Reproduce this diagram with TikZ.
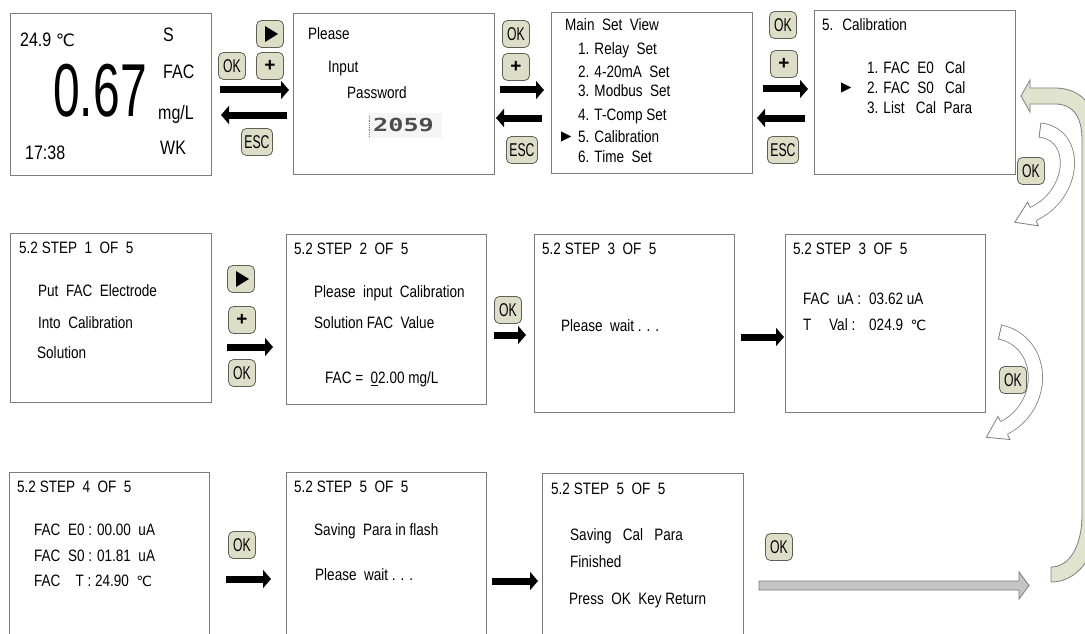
\documentclass[tikz,border=0pt]{standalone}
\usepackage{fontspec}
\setmainfont{Liberation Sans}[FakeStretch=0.82]
\newfontfamily\bigfont{Liberation Sans}[FakeStretch=0.64]
\newfontfamily\btnfont{Liberation Sans}[FakeStretch=0.66]
\newfontfamily\plusfont{Liberation Sans}
\newfontfamily\symfont{DejaVu Sans}
\newfontfamily\pwfont{DejaVu Sans Mono}[FakeStretch=1.4]
\usetikzlibrary{arrows.meta,calc}
\definecolor{btnfill}{RGB}{220,222,200}
\definecolor{btnedge}{RGB}{95,95,85}
\definecolor{olivefill}{RGB}{224,228,206}
\definecolor{boxedge}{RGB}{125,125,125}
\definecolor{arrgray}{RGB}{196,196,196}
\newcommand\cel{{\symfont\fontsize{14pt}{14pt}\selectfont ℃}}
\newcommand\bigcel{{\symfont\fontsize{17pt}{17pt}\selectfont ℃}}
\newcommand\plussign{{\plusfont\bfseries\fontsize{19pt}{19pt}\selectfont +}}
\newcommand\wharrow[4]{%
  \draw[draw=boxedge, line width=15pt] #1 .. controls #2 and #3 .. #4;
  \draw[white, line width=13.4pt] #1 .. controls #2 and #3 .. #4;
  \draw[boxedge, line width=0.8pt] ($#1!7.5pt!90:#2$) -- ($#1!7.5pt!-90:#2$);
  \coordinate (hE) at #4;
  \coordinate (hT) at ($#4!-20pt!#3$);
  \fill[white] ($(hE)!13pt!90:(hT)$) -- (hT) -- ($(hE)!13pt!-90:(hT)$) -- cycle;
  \draw[boxedge, line width=0.8pt, line join=miter] ($(hE)!7.5pt!90:(hT)$) -- ($(hE)!13pt!90:(hT)$) -- (hT) -- ($(hE)!13pt!-90:(hT)$) -- ($(hE)!7.5pt!-90:(hT)$);
}
\begin{document}
\begin{tikzpicture}[x=1pt,y=-1pt,
  scr/.style={draw=boxedge, line width=0.9pt, fill=white, anchor=north west, inner sep=0pt},
  txt/.style={anchor=west, inner sep=0pt, font=\fontsize{16.5pt}{19pt}\selectfont, text height=11.8pt, text depth=0pt},
  lg/.style={anchor=west, inner sep=0pt, font=\fontsize{19.5pt}{22pt}\selectfont, text height=14pt, text depth=0pt},
  menumark/.style={anchor=west, inner sep=0pt, font=\symfont\fontsize{13.5pt}{13.5pt}\selectfont},
  btn/.style={draw=btnedge, fill=btnfill, rounded corners=5pt, line width=0.8pt, minimum width=27pt, minimum height=27pt, inner xsep=3pt, inner ysep=0pt, font=\btnfont\fontsize{18.5pt}{18.5pt}\selectfont},
  blk/.style={line width=7pt, -{Triangle[length=8pt,width=18pt]}},
]
\useasboundingbox (0,0) rectangle (1085,634);
\clip (0,0) rectangle (1085,634);
\fill[white] (0,0) rectangle (1085,634);

% ---------- screens ----------
\node[scr, minimum width=201pt, minimum height=162pt] (s1) at (10,13) {};
\node[scr, minimum width=201pt, minimum height=161pt] (s2) at (293,13) {};
\node[scr, minimum width=201pt, minimum height=161pt] (s3) at (551,12) {};
\node[scr, minimum width=201pt, minimum height=164pt] (s4) at (814,10) {};
\node[scr, minimum width=201pt, minimum height=169pt] (m1) at (10,233) {};
\node[scr, minimum width=200pt, minimum height=170pt] (m2) at (286,234) {};
\node[scr, minimum width=200pt, minimum height=178pt] (m3) at (534,234) {};
\node[scr, minimum width=200pt, minimum height=178pt] (m4) at (785,234) {};
\node[scr, minimum width=200pt, minimum height=200pt] (b1) at (9,472) {};
\node[scr, minimum width=200pt, minimum height=200pt] (b2) at (286,472) {};
\node[scr, minimum width=201pt, minimum height=200pt] (b3) at (542,473) {};

% ---------- screen 1 ----------
\node[lg] (t1a) at (20,40) {24.9 \bigcel};
\node[inner sep=0pt, font=\bigfont\fontsize{75pt}{75pt}\selectfont, text height=54pt, text depth=0pt] (t1b) at (100,90) {0.67};
\node[lg] (t1c) at (25,152) {17:38};
\node[lg] (t1d) at (163,35) {S};
\node[lg] (t1e) at (163,72) {FAC};
\node[lg] (t1f) at (158,113) {mg/L};
\node[lg] (t1g) at (160,147) {WK};

% ---------- screen 2 ----------
\node[txt] (t2a) at (308,34) {Please};
\node[txt] (t2b) at (328,67) {Input};
\node[txt] (t2c) at (347,93) {Password};
\fill[gray!8] (368,113) rectangle (442,138);
\draw[densely dotted, gray, line width=0.8pt] (369,116) -- (369,136);
\node[inner sep=0pt, anchor=west, font=\pwfont\bfseries\fontsize{18pt}{18pt}\selectfont, text=gray!60!black, text height=13pt, text depth=0pt] (t2d) at (373,125) {2059};

% ---------- screen 3 ----------
\node[txt] (t3a) at (565,25) {Main~ Set~ View};
\node[txt] (t3b) at (578,49) {1. Relay~ Set};
\node[txt] (t3c) at (578,72) {2. 4-20mA~ Set};
\node[txt] (t3d) at (578,91) {3. Modbus~ Set};
\node[txt] (t3e) at (578,115) {4. T-Comp Set};
\node[menumark] (t3m) at (561,137) {▶};
\node[txt] (t3f) at (578,137) {5. Calibration};
\node[txt] (t3g) at (578,157) {6. Time~ Set};

% ---------- screen 4 ----------
\node[txt] (t4a) at (822,25) {5.~ Calibration};
\node[txt] (t4b) at (867,68) {1. FAC~ E0~~ Cal};
\node[menumark] (t4m) at (841,88) {▶};
\node[txt] (t4c) at (867,88) {2. FAC~ S0~~ Cal};
\node[txt] (t4d) at (867,108) {3. List~~ Cal~ Para};

% ---------- middle row ----------
\node[txt] (u1a) at (19,248) {5.2 STEP~ 1~ OF~ 5};
\node[txt] (u1b) at (38,291) {Put~ FAC~ Electrode};
\node[txt] (u1c) at (38,323) {Into~ Calibration};
\node[txt] (u1d) at (37,353) {Solution};

\node[txt] (u2a) at (294,249) {5.2 STEP~ 2~ OF~ 5};
\node[txt] (u2b) at (314,292) {Please~ input~ Calibration};
\node[txt] (u2c) at (314,323) {Solution FAC~ Value};
\node[txt] (u2d) at (325,378) {FAC =~ \underline{0}2.00 mg/L};

\node[txt] (u3a) at (542,249) {5.2 STEP~ 3~ OF~ 5};
\node[txt] (u3b) at (561,326) {Please~ wait . . .};

\node[txt] (u4a) at (793,249) {5.2 STEP~ 3~ OF~ 5};
\node[txt] (u4b) at (803,299) {FAC~ uA :};
\node[txt] (u4c) at (869,299) {03.62 uA};
\node[txt] (u4d) at (803,325) {T};
\node[txt] (u4e) at (829,325) {Val :};
\node[txt] (u4f) at (869,325) {024.9~ \cel};

% ---------- bottom row ----------
\node[txt] (v1a) at (17,487) {5.2 STEP~ 4~ OF~ 5};
\node[txt] (v1b) at (34,530) {FAC~ E0 : 00.00~ uA};
\node[txt] (v1c) at (34,556) {FAC~ S0 : 01.81~ uA};
\node[txt] (v1d) at (34,581) {FAC~~~ T : 24.90~ \cel};

\node[txt] (v2a) at (294,487) {5.2 STEP~ 5~ OF~ 5};
\node[txt] (v2b) at (314,530) {Saving~ Para in flash};
\node[txt] (v2c) at (315,575) {Please~ wait . . .};

\node[txt] (v3a) at (551,489) {5.2 STEP~ 5~ OF~ 5};
\node[txt] (v3b) at (570,535) {Saving~~ Cal~~ Para};
\node[txt] (v3c) at (570,562) {Finished};
\node[txt] (v3d) at (569,599) {Press~ OK~ Key Return};

% ---------- buttons ----------
\node[btn] (p1) at (270,34) {};
\fill (p1.center) ++(-5,-8) -- ++(0,16) -- ++(13,-8) -- cycle;
\node[btn] (k1) at (232,66) {OK};
\node[btn] (q1) at (270,66) {\plussign};
\node[btn] (e1) at (257,142) {ESC};
\node[btn] (k2) at (516,34) {OK};
\node[btn] (q2) at (516,67) {\plussign};
\node[btn] (e2) at (522,150) {ESC};
\node[btn] (k3) at (783,25) {OK};
\node[btn] (q3) at (784,64) {\plussign};
\node[btn] (e3) at (783,150) {ESC};
\node[btn] (p2) at (241,279) {};
\fill (p2.center) ++(-5,-8) -- ++(0,16) -- ++(13,-8) -- cycle;
\node[btn] (q4) at (242,320) {\plussign};
\node[btn] (k5) at (242,373) {OK};
\node[btn] (k6) at (508,310) {OK};
\node[btn] (k8) at (242,545) {OK};
\node[btn] (k9) at (779,547) {OK};

% ---------- black arrows ----------
\coordinate (a1s) at (220,90);  \coordinate (a1e) at (289,90);
\coordinate (a2s) at (287,115); \coordinate (a2e) at (221,115);
\coordinate (a3s) at (500,90);  \coordinate (a3e) at (544,90);
\coordinate (a4s) at (542,118); \coordinate (a4e) at (496,118);
\coordinate (a5s) at (763,89);  \coordinate (a5e) at (808,89);
\coordinate (a6s) at (805,118); \coordinate (a6e) at (757,118);
\coordinate (a7s) at (227,347); \coordinate (a7e) at (273,347);
\coordinate (a8s) at (494,335); \coordinate (a8e) at (526,335);
\coordinate (a9s) at (741,337); \coordinate (a9e) at (784,337);
\coordinate (a10s) at (226,579); \coordinate (a10e) at (271,579);
\coordinate (a11s) at (492,581); \coordinate (a11e) at (538,581);
\foreach \i in {1,...,11} \draw[blk] (a\i s) -- (a\i e);

% ---------- grey return arrow ----------
\coordinate (g0) at (759,585.5);
\coordinate (g1) at (1029,585.5);
\filldraw[fill=arrgray, draw=boxedge, line width=0.8pt]
  ($(g0)+(0,-4.5)$) -- ($(g1)+(-10,-4.5)$) -- ($(g1)+(-10,-13.5)$) -- (g1)
  -- ($(g1)+(-10,13.5)$) -- ($(g1)+(-10,4.5)$) -- ($(g0)+(0,4.5)$) -- cycle;

% ---------- olive return arrow ----------
\filldraw[fill=olivefill, draw=boxedge, line width=0.8pt]
  (1030,88) -- (1055,88) .. controls (1080,88) and (1097,105) .. (1097,135)
  -- (1097,520) .. controls (1097,560) and (1075,582) .. (1051,582)
  -- (1051,567) .. controls (1070,567) and (1082,545) .. (1082,515)
  -- (1082,140) .. controls (1082,115) and (1072,104) .. (1055,104)
  -- (1030,104) -- (1030,112) -- (1021,96) -- (1030,80) -- cycle;

% ---------- white curved OK arrows ----------
\wharrow{(1040,130)}{(1080,135)}{(1075,195)}{(1033,214)}
\wharrow{(1000,332)}{(1045,342)}{(1048,405)}{(1004,428)}
\node[btn] (k4) at (1031,171) {OK};
\node[btn] (k7) at (1013,380) {OK};
\end{tikzpicture}
\end{document}
